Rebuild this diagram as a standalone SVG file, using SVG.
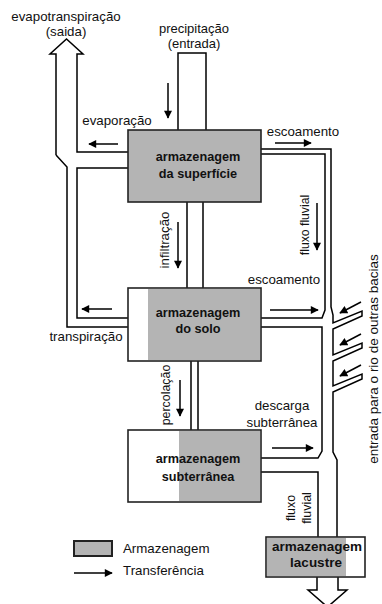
<svg xmlns="http://www.w3.org/2000/svg" width="382" height="604" viewBox="0 0 382 604">
<defs>
<marker id="ah" viewBox="0 0 10 10" markerWidth="9" markerHeight="8" refX="9" refY="5" orient="auto" markerUnits="userSpaceOnUse">
<path d="M0,0 L10,5 L0,10 z" fill="#000"/>
</marker>
</defs>
<style>
.t{font-family:"Liberation Sans",Arial,sans-serif;font-size:13.3px;fill:#111}
.b{font-family:"Liberation Sans",Arial,sans-serif;font-size:12.7px;font-weight:bold;fill:#111;text-anchor:middle}
.m{text-anchor:middle}
.ch{fill:none;stroke:#000;stroke-width:1.5}
.ar{fill:none;stroke:#000;stroke-width:1.5;marker-end:url(#ah)}
.box{stroke:#222;stroke-width:1.6}
.g{fill:#b4b4b4}
</style>
<rect width="382" height="604" fill="#fff"/>
<g id="connectors">
<path class="ch" d="M56,155 V54 H50 L66.5,39 L83,54 H77 V152 H128"/>
<path class="ch" d="M56,155 L67,167 V327 H128"/>
<path class="ch" d="M128,168 H77 V318 H128"/>
<path class="ch" d="M178,130 V53 H206 V130"/>
<path class="ch" d="M187,202 V288 M203,202 V288"/>
<path class="ch" d="M191,361 V430 M198,361 V430"/>
<path class="ch" d="M261,149 H331 V307 L333,315 V323 L362,311 V316 L333,329 V355 L362,343 V348 L333,361 V386 L362,374 V379 L333,392 V452 L337,460 V537"/>
<path class="ch" d="M261,154 H325 V310 L322,318 H261"/>
<path class="ch" d="M261,327 H322 V451 L318,458 H261"/>
<path class="ch" d="M261,472 H318 V537"/>
<path class="ch" d="M317,577 V590 H308 L327.5,607 L347,590 H338 V577"/>
<line class="ar" x1="168" y1="83" x2="168" y2="118"/>
<line class="ar" x1="118" y1="144" x2="89" y2="144"/>
<line class="ar" x1="275" y1="143" x2="311" y2="143"/>
<line class="ar" x1="317" y1="203" x2="317" y2="250"/>
<line class="ar" x1="178" y1="222" x2="178" y2="268"/>
<line class="ar" x1="112" y1="309" x2="82" y2="309"/>
<line class="ar" x1="270" y1="310" x2="318" y2="310"/>
<line class="ar" x1="180" y1="380" x2="180" y2="416"/>
<line class="ar" x1="272" y1="448" x2="313" y2="448"/>
<line class="ar" x1="361" y1="302" x2="340" y2="313"/>
<line class="ar" x1="361" y1="334" x2="340" y2="345"/>
<line class="ar" x1="361" y1="365" x2="340" y2="376"/>
</g>
<g id="surface">
<rect class="box g" x="128" y="130" width="133" height="72"/>
<text class="b" x="198" y="161">armazenagem</text>
<text class="b" x="198" y="178">da superfície</text>
</g>
<g id="soil">
<rect class="box" x="128" y="288" width="133" height="73" fill="#fff"/>
<rect class="g" x="148" y="289" width="112" height="71"/>
<text class="b" x="198" y="317">armazenagem</text>
<text class="b" x="198" y="333">do solo</text>
</g>
<g id="groundwater">
<rect class="box" x="128" y="430" width="133" height="72" fill="#fff"/>
<rect class="g" x="179" y="431" width="81" height="70"/>
<text class="b" x="198" y="463">armazenagem</text>
<text class="b" x="198" y="481">subterrânea</text>
</g>
<g id="lake">
<rect class="box" x="266" y="537" width="99" height="40" fill="#fff"/>
<rect class="g" x="267" y="538" width="79" height="38"/>
<text class="b" x="317" y="551" style="font-size:13.5px">armazenagem</text>
<text class="b" x="316" y="567" style="font-size:13.5px">lacustre</text>
</g>
<g id="labels">
<text class="t m" x="66" y="21">evapotranspiração</text>
<text class="t m" x="66" y="36">(saida)</text>
<text class="t m" x="194" y="32.5" style="font-size:13px">precipitação</text>
<text class="t m" x="194" y="48" style="font-size:13px">(entrada)</text>
<text class="t m" x="117" y="125">evaporação</text>
<text class="t m" x="303" y="136">escoamento</text>
<text class="t m" x="284" y="284">escoamento</text>
<text class="t m" x="86" y="341">transpiração</text>
<text class="t m" x="282" y="410">descarga</text>
<text class="t m" x="282" y="427">subterrânea</text>
<text class="t m" transform="translate(309,225) rotate(-90)" style="font-size:12.2px">fluxo fluvial</text>
<text class="t m" transform="translate(169,240) rotate(-90)">infiltração</text>
<text class="t m" transform="translate(170,395) rotate(-90)" style="font-size:12.4px">percolação</text>
<text class="t m" transform="translate(295,508) rotate(-90)" style="font-size:12.4px">fluxo</text>
<text class="t m" transform="translate(311,508) rotate(-90)" style="font-size:12.4px">fluvial</text>
<text class="t m" transform="translate(378,359) rotate(-90)" style="font-size:13.5px">entrada para o rio de outras bacias</text>
</g>
<g id="legend">
<rect class="box g" x="74" y="541" width="38" height="15" style="stroke-width:2"/>
<text class="t" x="123" y="553">Armazenagem</text>
<line class="ar" x1="74" y1="573" x2="112" y2="573"/>
<text class="t" x="123" y="575">Transferência</text>
</g>
</svg>
